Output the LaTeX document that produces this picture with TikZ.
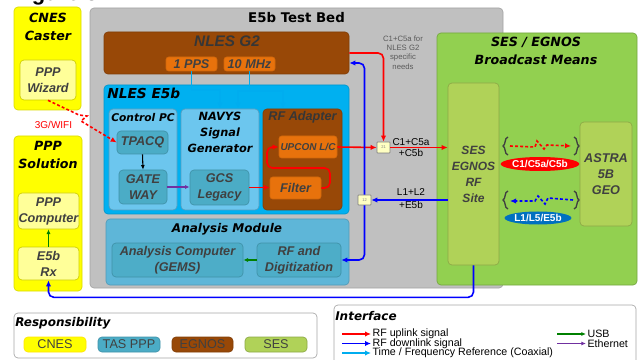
\documentclass[tikz,border=0pt]{standalone}
\usepackage{fontspec}
\setmainfont{Liberation Sans}
\newfontfamily\titlefont{DejaVu Sans}
\usetikzlibrary{shapes.geometric}
\usetikzlibrary{arrows.meta}

\definecolor{cnesyel}{RGB}{255,255,0}
\definecolor{wizyel}{RGB}{255,255,153}
\definecolor{bedgray}{RGB}{192,192,192}
\definecolor{egnosbrn}{RGB}{152,72,7}
\definecolor{orng}{RGB}{232,114,12}
\definecolor{e5bblue}{RGB}{0,176,240}
\definecolor{pcblue}{RGB}{108,198,238}
\definecolor{tasteal}{RGB}{75,172,198}
\definecolor{anablue}{RGB}{94,182,216}
\definecolor{sesgrn}{RGB}{146,208,80}
\definecolor{sitegrn}{RGB}{176,210,88}
\definecolor{txtgray}{RGB}{64,64,64}
\definecolor{notegray}{RGB}{90,90,90}
\definecolor{ethpurple}{RGB}{112,48,160}
\definecolor{usbgreen}{RGB}{0,128,0}
\definecolor{dlblue}{RGB}{0,112,192}

\tikzset{
  blk/.style={rectangle, rounded corners=3pt, inner sep=0pt, line width=0.5pt},
  sz/.style 2 args={minimum width=#1*0.75pt, minimum height=#2*0.75pt},
  ttl/.style={align=center, inner sep=0pt, font=\titlefont\bfseries\itshape\fontsize{9.5}{13.5}\selectfont},
  lbl/.style={align=center, text=txtgray, font=\bfseries\itshape\fontsize{9.5}{12}\selectfont},
  uplink/.style={draw=red, line width=1.2pt, -{Latex[length=4.5pt,width=4pt]}},
  downlink/.style={draw=blue, line width=1.2pt, -{Latex[length=4.5pt,width=4pt]}},
  timeref/.style={draw=cyan, line width=1.2pt, -{Latex[length=4.5pt,width=4pt]}},
  usbline/.style={draw=usbgreen, line width=0.8pt, -{Latex[length=3.5pt,width=3pt]}},
  ethline/.style={draw=ethpurple, line width=0.8pt, -{Latex[length=3.5pt,width=3pt]}},
  radio/.style={line width=1.2pt, dash pattern=on 2.2pt off 1.6pt, -{Latex[length=4.5pt,width=4pt]}},
  brc/.style={draw=txtgray, line width=1pt},
  combo/.style={blk, rounded corners=0.5pt, sz={13}{11}, fill=wizyel!60!white, draw=gray,
    font=\fontsize{3}{3}\selectfont, text=gray},
  legtxt/.style={anchor=west, inner sep=1pt, font=\fontsize{8}{9}\selectfont},
}

\begin{document}
\begin{tikzpicture}[x=0.75pt,y=0.75pt,yscale=-1,xscale=1]

\useasboundingbox (0,0) rectangle (640,360);

% Text Node
\node[anchor=base west, inner sep=0pt, font=\bfseries\fontsize{16.5}{18}\selectfont] (figT) at (12,0.5) {Figure 3:};

% CNES side
\node[blk, sz={67}{103}, fill=cnesyel, draw=cnesyel!85!black] (cnes) at (47.5,58.5) {};
\node[ttl] (cnesT) at (48,27) {CNES\\Caster};
\node[blk, sz={56}{40}, fill=wizyel, draw=cnesyel!80!black, lbl] (wizard) at (48,80) {PPP\\Wizard};

\node[blk, sz={68}{155}, fill=cnesyel, draw=cnesyel!85!black] (sol) at (48,213.5) {};
\node[ttl] (solT) at (48,155) {PPP\\Solution};
\node[blk, sz={61}{36}, fill=wizyel, draw=cnesyel!80!black, lbl] (comp) at (48.5,211) {PPP\\Computer};
\node[blk, sz={61}{33}, fill=wizyel, draw=cnesyel!80!black, lbl] (rx) at (48.5,263.5) {E5b\\Rx};

% Test bed
\node[blk, sz={413}{280}, fill=bedgray, draw=bedgray!85!black] (bed) at (296.5,148) {};
\node[ttl, font=\titlefont\bfseries\fontsize{10}{12}\selectfont] (bedT) at (296.5,17.5) {E5b Test Bed};

% NLES G2
\node[blk, sz={245}{42}, fill=egnosbrn, draw=egnosbrn!85!black] (g2) at (226.5,53) {};
\node[inner sep=0pt, text=txtgray!85!black, font=\bfseries\itshape\fontsize{11.5}{13}\selectfont] (g2T) at (227,41) {NLES G2};
\node[blk, rounded corners=2pt, sz={51}{14}, fill=orng, draw=orng!90!black, lbl] (pps) at (191.5,64) {1 PPS};
\node[blk, rounded corners=2pt, sz={51}{14}, fill=orng, draw=orng!90!black, lbl] (mhz) at (249.5,64) {10 MHz};

% NLES E5b
\node[blk, sz={245}{129}, fill=e5bblue, draw=e5bblue!85!black] (e5b) at (226.5,149.5) {};
\node[ttl, anchor=west, font=\titlefont\bfseries\itshape\fontsize{10.3}{12}\selectfont] (e5bT) at (107,93) {NLES E5b};

\node[blk, sz={68}{101}, fill=pcblue, draw=pcblue!80!black] (ctrl) at (143,159.5) {};
\node[ttl, font=\titlefont\bfseries\itshape\fontsize{8}{10}\selectfont] (ctrlT) at (143,118) {Control PC};
\node[blk, sz={51}{23}, fill=tasteal, draw=tasteal!85!black, lbl] (tpacq) at (142.5,142.5) {TPACQ};
\node[blk, sz={48}{34}, fill=tasteal, draw=tasteal!85!black, lbl] (gate) at (143,187) {GATE\\WAY};

\node[blk, sz={78}{101}, fill=pcblue, draw=pcblue!80!black] (navys) at (220,159.5) {};
\node[ttl, font=\titlefont\bfseries\itshape\fontsize{8.5}{12}\selectfont] (navysT) at (220,132) {NAVYS\\Signal\\Generator};
\node[blk, sz={59}{35}, fill=tasteal, draw=tasteal!85!black, lbl] (gcs) at (219.5,187.5) {GCS\\Legacy};

\node[blk, sz={79}{101}, fill=egnosbrn, draw=egnosbrn!85!black] (rfa) at (302.5,159.5) {};
\node[inner sep=0pt, text=txtgray!85!black, font=\bfseries\itshape\fontsize{9.5}{12}\selectfont] (rfaT) at (302.5,117.5) {RF Adapter};
\node[blk, rounded corners=2pt, sz={58}{22}, fill=orng, draw=orng!90!black, lbl, font=\bfseries\itshape\fontsize{7.5}{9}\selectfont] (upcon) at (308,147) {UPCON L/C};
\node[blk, rounded corners=2pt, sz={51}{22}, fill=orng, draw=orng!90!black, lbl] (filter) at (295.5,188) {Filter};

% Analysis Module
\node[blk, sz={243}{66}, fill=anablue, draw=anablue!85!black] (ana) at (227.5,252) {};
\node[ttl, font=\titlefont\bfseries\itshape\fontsize{9}{11}\selectfont] (anaT) at (227,229.5) {Analysis Module};
\node[blk, sz={131}{34}, fill=tasteal!90!anablue, draw=tasteal!85!black, lbl] (gems) at (177.5,260) {Analysis Computer\\(GEMS)};
\node[blk, sz={84}{34}, fill=tasteal!90!anablue, draw=tasteal!85!black, lbl] (rfd) at (299,260) {RF and\\Digitization};

% Combiners
\node[combo] (m21) at (383.5,147.5) {21};
\node[combo, sz={13}{10}] (m12) at (364.5,200) {12};

% SES / EGNOS
\node[blk, sz={200}{252}, fill=sesgrn, draw=sesgrn!80!black] (ses) at (537,159) {};
\node[ttl] (sesT) at (536,51) {SES / EGNOS\\Broadcast Means};
\node[blk, sz={51}{182}, fill=sitegrn, draw=sitegrn!80!black, lbl, font=\bfseries\itshape\fontsize{9}{12}\selectfont] (site) at (473.5,174) {SES\\EGNOS\\RF\\Site};
\node[blk, sz={52}{104}, fill=sitegrn, draw=sitegrn!80!black, lbl, font=\bfseries\itshape\fontsize{9.5}{12}\selectfont] (astra) at (606,174) {ASTRA\\5B\\GEO};
\node[ellipse, fill=red, inner sep=0pt, sz={61}{14}, text=white, font=\bfseries\fontsize{7.5}{9}\selectfont] (ulE) at (540,164) {C1/C5a/C5b};
\node[ellipse, fill=dlblue, inner sep=0pt, sz={63}{13}, text=white, font=\bfseries\fontsize{7.5}{9}\selectfont] (dlE) at (538,218) {L1/L5/E5b};

% Text Node
\node[align=center, inner sep=0pt, text=notegray, font=\fontsize{5.8}{7}\selectfont] (note) at (403,52.5) {C1+C5a for\\NLES G2\\specific\\needs};
\node[align=center, inner sep=0pt, font=\fontsize{7.5}{8.3}\selectfont] (ulT) at (411,147.5) {C1+C5a\\+C5b};
\node[align=center, inner sep=0pt, font=\fontsize{7.5}{9.8}\selectfont] (dlT) at (411,199) {L1+L2\\+E5b};
\node[inner sep=0pt, text=red, font=\fontsize{7.5}{9}\selectfont] (wifiT) at (53.5,125) {3G/WIFI};

% Time / frequency reference
\draw[timeref] (pps.south) |- (220,90) -- (navys.north);
\draw[cyan, line width=1.2pt] (mhz.south) -- (249.5,91);
\draw[timeref] (249.5,91) -| (238,0 |- navys.north);
\draw[timeref] (249.5,91) -| (283,0 |- rfa.north);

% Links inside the test bed
\draw[black, line width=0.8pt, -{Latex[length=3.5pt,width=3pt]}] (tpacq.south) -- (gate.north);
\draw[ethline] (gate.east) -- (gate.east -| gcs.west);
\draw[uplink] (gcs.east) -- (gcs.east -| filter.west);
\draw[uplink, rounded corners=4] (filter.east) -| (330,168) -| (267,147) -- (upcon.west);
\draw[uplink] (upcon.east) -- (m21.west);
\draw[uplink, rounded corners=4] (g2.east) -| (m21.north);
\draw[uplink] (m21.east) -- (m21.east -| site.west);
\draw[downlink] (site.west |- m12.east) -- (m12.east);
\draw[downlink, rounded corners=4] (m12.north) |- (g2.east |- 0,63);
\draw[downlink, rounded corners=4] (m12.south) |- (rfd.east);
\draw[usbline] (rfd.west) -- (gems.east);
\draw[usbline] (rx.north) -- (comp.south);
\draw[downlink, rounded corners=4] (site.south) -- ++(0,32) -| (rx.south);

% Radio links
\draw[red, radio] (wizard.south) -- (79,115) -- (87,116) -- (81,121) -- (tpacq.west);
\coordinate (ulA) at (510,146);
\coordinate (ulB) at (571,146);
\draw[red, radio] (ulA) -- (535,147) -- (537,141) -- (544,149) -- (547,145) -- (ulB);
\coordinate (dlA) at (573,200);
\coordinate (dlB) at (510,201);
\draw[blue, radio] (dlA) -- (548,198) -- (545,204) -- (538,196) -- (535,201) -- (dlB);
\foreach \yy in {146,200} {
  \draw[brc] (508,\yy-9) .. controls (504,\yy-8) and (506,\yy-1) .. (503,\yy) .. controls (506,\yy+1) and (504,\yy+8) .. (508,\yy+9);
  \draw[brc] (574,\yy-9) .. controls (578,\yy-8) and (576,\yy-1) .. (579,\yy) .. controls (576,\yy+1) and (578,\yy+8) .. (574,\yy+9);
}

% Responsibility legend
\node[blk, sz={303}{45}, fill=white, draw=gray!70] (resp) at (165.5,335.5) {};
\node[ttl, anchor=west, font=\titlefont\bfseries\itshape\fontsize{9}{11}\selectfont] (respT) at (15,323) {Responsibility};
\node[blk, sz={62}{15}, fill=cnesyel, draw=cnesyel!80!orange, text=txtgray, font=\fontsize{9.5}{11}\selectfont] (cnesL) at (55,344.5) {CNES};
\node[blk, sz={62}{15}, fill=tasteal, draw=tasteal!85!black, text=txtgray, font=\fontsize{9.5}{11}\selectfont] (tasL) at (129,344.5) {TAS PPP};
\node[blk, sz={61}{15}, fill=egnosbrn, draw=egnosbrn!85!black, text=txtgray, font=\fontsize{9.5}{11}\selectfont] (egnosL) at (202.5,344.5) {EGNOS};
\node[blk, sz={62}{15}, fill=sitegrn, draw=sitegrn!80!black, text=txtgray, font=\fontsize{9.5}{11}\selectfont] (sesL) at (276,344.5) {SES};

% Interface legend
\node[blk, sz={302}{60}, fill=white, draw=gray!70] (iface) at (485,335) {};
\node[ttl, anchor=west, font=\titlefont\bfseries\itshape\fontsize{9}{11}\selectfont] (ifaceT) at (335,316) {Interface};
\node[legtxt] (lup) at (371,334) {RF uplink signal};
\node[legtxt] (ldn) at (371,343.5) {RF downlink signal};
\node[legtxt] (ltf) at (371,353) {Time / Frequency Reference (Coaxial)};
\node[legtxt] (lusb) at (586,334) {USB};
\node[legtxt] (leth) at (586,343.5) {Ethernet};
\draw[uplink] (lup.west) ++(-29,0) -- (lup.west);
\draw[downlink] (ldn.west) ++(-29,0) -- (ldn.west);
\draw[timeref] (ltf.west) ++(-29,0) -- (ltf.west);
\draw[usbline] (lusb.west) ++(-29,0) -- (lusb.west);
\draw[ethline] (leth.west) ++(-29,0) -- (leth.west);

\end{tikzpicture}
\end{document}
